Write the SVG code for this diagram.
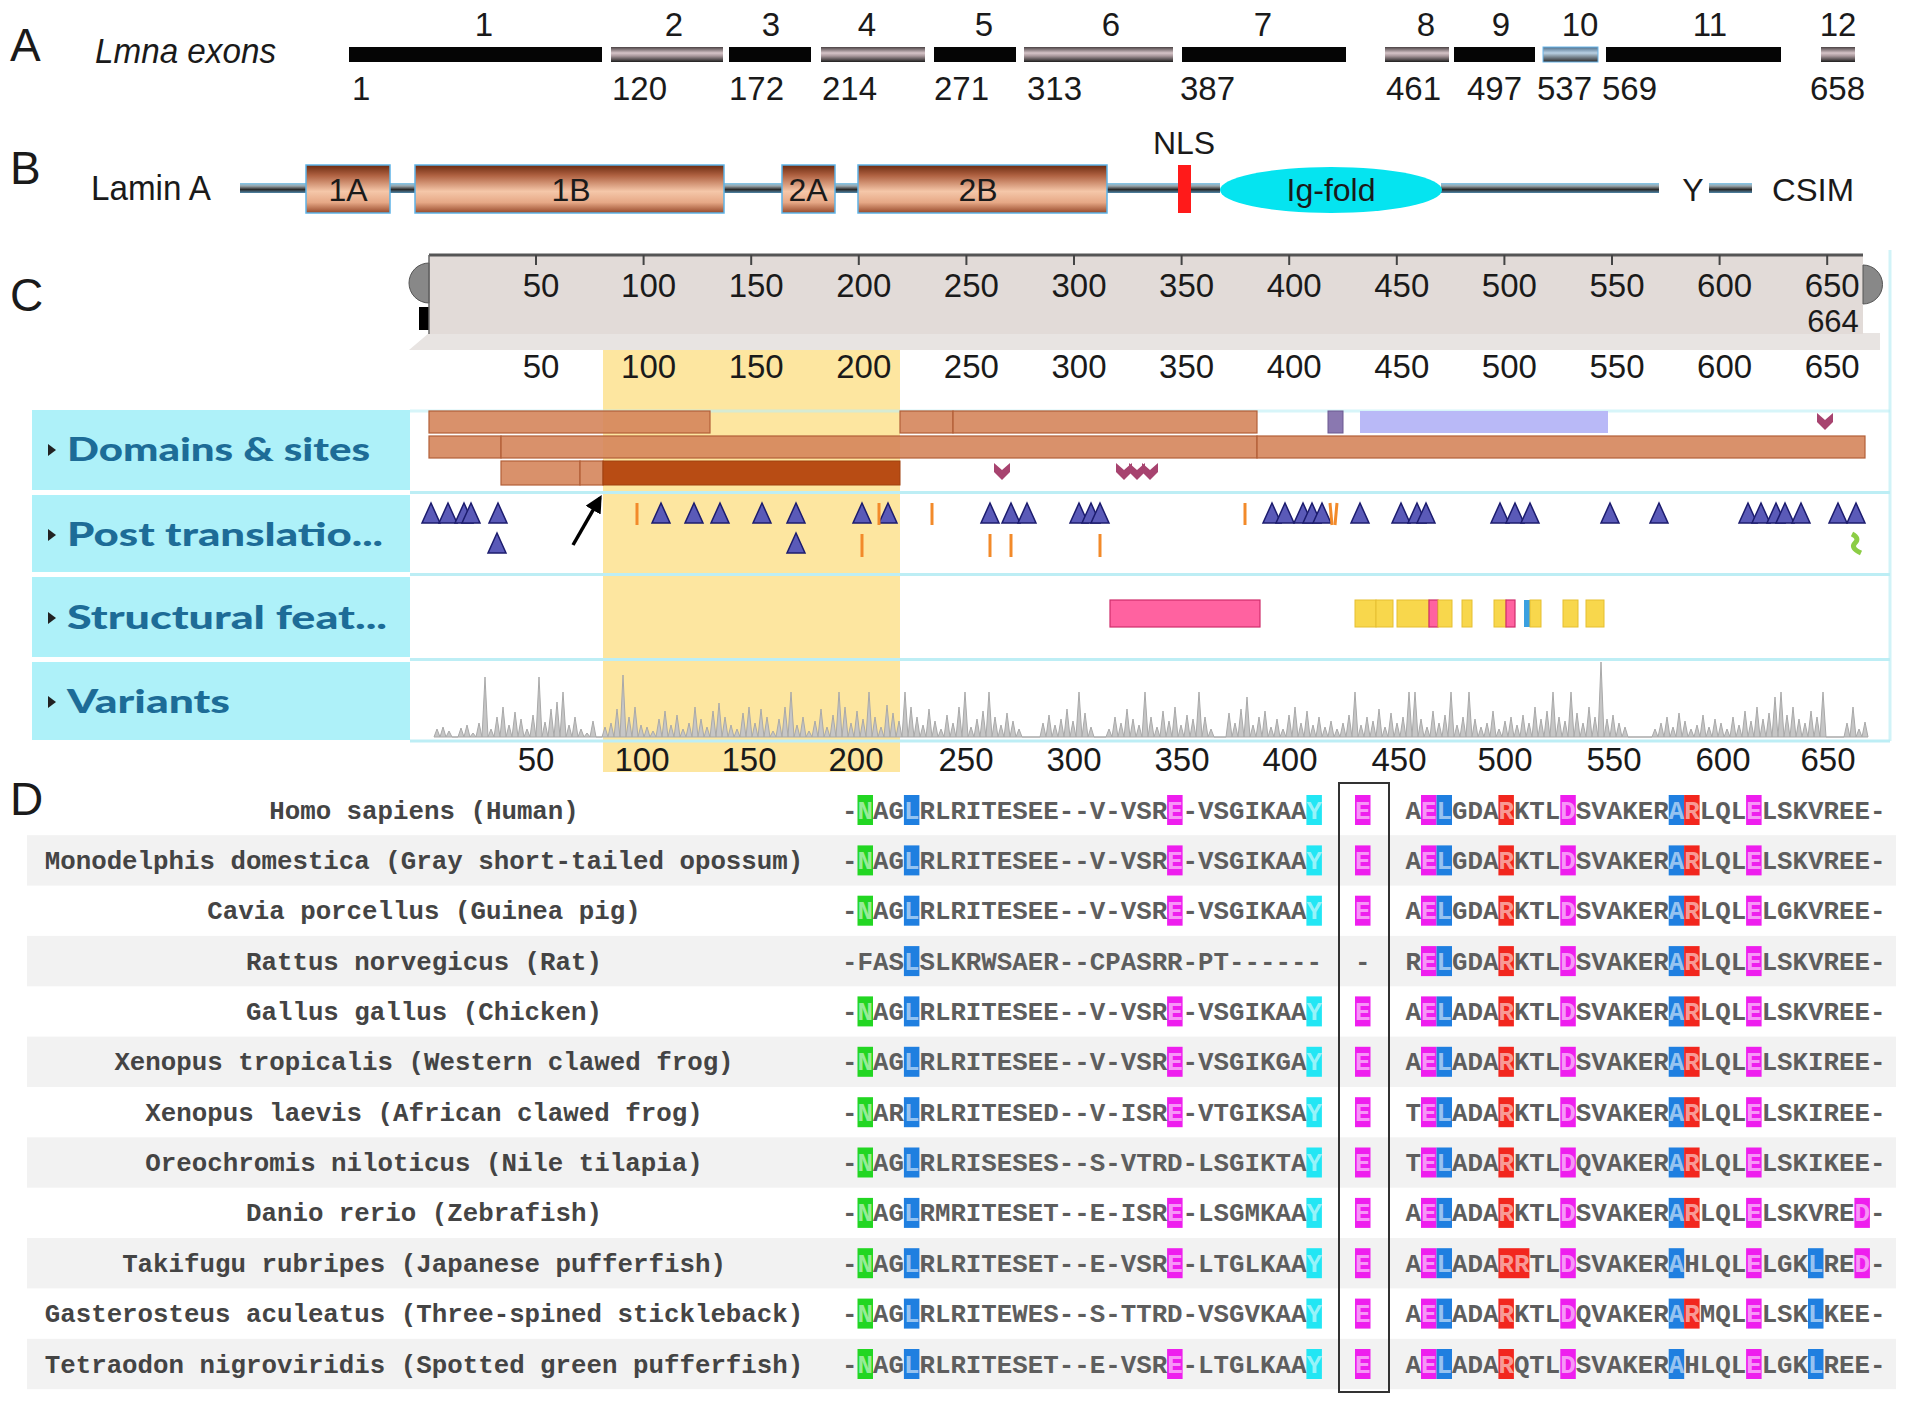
<svg xmlns="http://www.w3.org/2000/svg" width="1913" height="1412" viewBox="0 0 1913 1412">
<style>
.s{font-family:"Liberation Sans",Arial,sans-serif;fill:#1a1a1a}
.big{font-size:46px}
.n{font-size:33px}
.ax{font-size:33px;text-anchor:middle}
.mid{text-anchor:middle}
.trk{font-family:Lato,"Open Sans",sans-serif;font-weight:900;font-size:32px;fill:#1d6c97}
.mono{font-family:"Liberation Mono","Courier New",monospace;font-size:25.8px;font-weight:bold;fill:#5e5e5e}
.sp{font-family:"Liberation Mono","Courier New",monospace;font-size:25.8px;font-weight:bold;fill:#444;text-anchor:middle}
.h{fill:#ffffff;fill-opacity:0.55}
.g{fill:#22d622}.b{fill:#1f7fe0}.m{fill:#ee1eee}.c{fill:#22e6f4}.r{fill:#f2261e}
.blk{fill:#050505}
.eg{fill:url(#exonGrad)}
.line{fill:url(#lineGrad)}
.box{fill:url(#boxGrad);stroke:#5db3e6;stroke-width:1.5}
.dom{fill:#d5855b;fill-opacity:0.9;stroke:#b25f38;stroke-width:1.2}
.ot{stroke:#f28a2a;stroke-width:3}
.sep{stroke:#bdeef5;stroke-width:3}
.yl{fill:#f8d74c;stroke:#e6bf30;stroke-width:1}
.pk{fill:#ff62a0;stroke:#cf2d6c;stroke-width:1.2}
</style>
<defs>
<linearGradient id="exonGrad" x1="0" y1="0" x2="0" y2="1">
<stop offset="0" stop-color="#4a4244"/><stop offset="0.4" stop-color="#d6c4c8"/><stop offset="0.6" stop-color="#a8979b"/><stop offset="1" stop-color="#1e1e1e"/>
</linearGradient>
<linearGradient id="exon10Grad" x1="0" y1="0" x2="0" y2="1">
<stop offset="0" stop-color="#4d6e8a"/><stop offset="0.4" stop-color="#b9d1e4"/><stop offset="1" stop-color="#2a2a2a"/>
</linearGradient>
<linearGradient id="lineGrad" x1="0" y1="0" x2="0" y2="1">
<stop offset="0" stop-color="#82c8ec"/><stop offset="0.3" stop-color="#9aa6ab"/><stop offset="0.65" stop-color="#2b2b2b"/><stop offset="1" stop-color="#4f86a8"/>
</linearGradient>
<linearGradient id="boxGrad" x1="0" y1="0" x2="0" y2="1">
<stop offset="0" stop-color="#6b2a10"/><stop offset="0.22" stop-color="#b06242"/><stop offset="0.55" stop-color="#f5c7a9"/><stop offset="0.78" stop-color="#e6a886"/><stop offset="1" stop-color="#96492a"/>
</linearGradient>
<path id="tri" d="M0,-10 L9,10 L-9,10 Z" fill="#5a5ab8" stroke="#1c1c6e" stroke-width="1.5"/>
<path id="chev" d="M-8,0 L0,7 L8,0 L8,9 L0,17 L-8,9 Z" fill="#a7436f"/>
<marker id="ah" viewBox="0 0 10 10" refX="8" refY="5" markerWidth="5" markerHeight="5" orient="auto">
<path d="M0,0 L10,5 L0,10 Z" fill="#000"/>
</marker>
</defs>
<rect width="1913" height="1412" fill="#fff"/>

<!-- Panel A -->
<g id="panelA">
<text class="s big" x="10" y="61">A</text>
<text class="s" x="95" y="63" font-size="35" font-style="italic" textLength="181" lengthAdjust="spacingAndGlyphs">Lmna exons</text>
<g id="exons">
<rect class="blk" x="349" y="47" width="253" height="15"/>
<rect class="eg" x="611" y="47" width="112" height="15"/>
<rect class="blk" x="729" y="47" width="82" height="15"/>
<rect class="eg" x="821" y="47" width="104" height="15"/>
<rect class="blk" x="934" y="47" width="82" height="15"/>
<rect class="eg" x="1024" y="47" width="149" height="15"/>
<rect class="blk" x="1182" y="47" width="164" height="15"/>
<rect class="eg" x="1385" y="47" width="64" height="15"/>
<rect class="blk" x="1454" y="47" width="81" height="15"/>
<rect x="1543" y="47" width="55" height="15" fill="url(#exon10Grad)" stroke="#6ab6ea" stroke-width="1"/>
<rect class="blk" x="1606" y="47" width="175" height="15"/>
<rect class="eg" x="1821" y="47" width="34" height="15"/>
</g>
<g>
<text class="s n mid" x="484" y="36">1</text>
<text class="s n mid" x="674" y="36">2</text>
<text class="s n mid" x="771" y="36">3</text>
<text class="s n mid" x="867" y="36">4</text>
<text class="s n mid" x="984" y="36">5</text>
<text class="s n mid" x="1111" y="36">6</text>
<text class="s n mid" x="1263" y="36">7</text>
<text class="s n mid" x="1426" y="36">8</text>
<text class="s n mid" x="1501" y="36">9</text>
<text class="s n mid" x="1580" y="36">10</text>
<text class="s n mid" x="1710" y="36">11</text>
<text class="s n mid" x="1838" y="36">12</text>
</g>
<text class="s n" x="352" y="100">1</text>
<text class="s n" x="612" y="100">120</text>
<text class="s n" x="729" y="100">172</text>
<text class="s n" x="822" y="100">214</text>
<text class="s n" x="934" y="100">271</text>
<text class="s n" x="1027" y="100">313</text>
<text class="s n" x="1180" y="100">387</text>
<text class="s n" x="1386" y="100">461</text>
<text class="s n" x="1467" y="100">497</text>
<text class="s n" x="1537" y="100">537</text>
<text class="s n" x="1602" y="100">569</text>
<text class="s n" x="1810" y="100">658</text>
</g>

<!-- Panel B -->
<g id="panelB">
<text class="s big" x="10" y="184">B</text>
<text class="s" x="91" y="200" font-size="35" textLength="120" lengthAdjust="spacingAndGlyphs">Lamin A</text>
<rect class="line" x="240" y="183" width="66" height="10"/>
<rect class="line" x="390" y="183" width="25" height="10"/>
<rect class="line" x="723" y="183" width="59" height="10"/>
<rect class="line" x="835" y="183" width="23" height="10"/>
<rect class="line" x="1107" y="183" width="113" height="10"/>
<rect class="line" x="1441" y="183" width="218" height="10"/>
<rect class="line" x="1709" y="183" width="43" height="10"/>
<g id="helix1A"><rect class="box" x="306" y="165" width="84" height="48"/><text class="s mid" x="348" y="201" font-size="32">1A</text></g>
<g id="helix1B"><rect class="box" x="415" y="165" width="309" height="48"/><text class="s mid" x="571" y="201" font-size="32">1B</text></g>
<g id="helix2A"><rect class="box" x="782" y="165" width="53" height="48"/><text class="s mid" x="808" y="201" font-size="32">2A</text></g>
<g id="helix2B"><rect class="box" x="858" y="165" width="249" height="48"/><text class="s mid" x="978" y="201" font-size="32">2B</text></g>
<g id="nls"><rect x="1178" y="165" width="13" height="48" fill="#ff1a1a"/><text class="s mid" x="1184" y="154" font-size="32">NLS</text></g>
<g id="igfold"><ellipse cx="1331" cy="190" rx="111" ry="23" fill="#05e4f0"/><text class="s mid" x="1331" y="201" font-size="32">Ig-fold</text></g>
<text class="s mid" x="1693" y="201" font-size="32">Y</text>
<text class="s" x="1772" y="201" font-size="32" textLength="82" lengthAdjust="spacingAndGlyphs">CSIM</text>
</g>

<!-- Panel C -->
<g id="panelC">
<text class="s big" x="10" y="311">C</text>
<rect x="603" y="350" width="297" height="422" fill="#fde6a0"/>
<g id="ruler">
<polygon points="409,350 429,333 1880,333 1880,350" fill="#e8e4e2"/>
<rect x="429" y="255" width="1434" height="79" fill="#e2dbd8"/>
<path d="M429,263 A20,20 0 0 0 429,303 Z" fill="#888" stroke="#555" stroke-width="1"/>
<path d="M1863,265 A19,19 0 0 1 1863,304 Z" fill="#888" stroke="#555" stroke-width="1"/>
<rect x="419" y="307" width="10" height="23" fill="#000"/>
<line x1="429" y1="255" x2="1863" y2="255" stroke="#555" stroke-width="3"/>
<line x1="429" y1="255" x2="429" y2="334" stroke="#666" stroke-width="1.5"/>
<g stroke="#444" stroke-width="2">
<line x1="536" y1="255" x2="536" y2="265"/><line x1="643.6" y1="255" x2="643.6" y2="265"/><line x1="751.2" y1="255" x2="751.2" y2="265"/><line x1="858.8" y1="255" x2="858.8" y2="265"/><line x1="966.4" y1="255" x2="966.4" y2="265"/><line x1="1074" y1="255" x2="1074" y2="265"/><line x1="1181.6" y1="255" x2="1181.6" y2="265"/><line x1="1289.2" y1="255" x2="1289.2" y2="265"/><line x1="1396.8" y1="255" x2="1396.8" y2="265"/><line x1="1504.4" y1="255" x2="1504.4" y2="265"/><line x1="1612" y1="255" x2="1612" y2="265"/><line x1="1719.6" y1="255" x2="1719.6" y2="265"/><line x1="1827.2" y1="255" x2="1827.2" y2="265"/>
</g>
<text class="s ax" x="541" y="297">50</text><text class="s ax" x="648.6" y="297">100</text><text class="s ax" x="756.2" y="297">150</text><text class="s ax" x="863.8" y="297">200</text><text class="s ax" x="971.4" y="297">250</text><text class="s ax" x="1079" y="297">300</text><text class="s ax" x="1186.6" y="297">350</text><text class="s ax" x="1294.2" y="297">400</text><text class="s ax" x="1401.8" y="297">450</text><text class="s ax" x="1509.4" y="297">500</text><text class="s ax" x="1617" y="297">550</text><text class="s ax" x="1724.6" y="297">600</text><text class="s ax" x="1832.2" y="297">650</text>
<text class="s mid" x="1833" y="332" font-size="31">664</text>
</g>
<g id="ruler2">
<text class="s ax" x="541" y="378">50</text><text class="s ax" x="648.6" y="378">100</text><text class="s ax" x="756.2" y="378">150</text><text class="s ax" x="863.8" y="378">200</text><text class="s ax" x="971.4" y="378">250</text><text class="s ax" x="1079" y="378">300</text><text class="s ax" x="1186.6" y="378">350</text><text class="s ax" x="1294.2" y="378">400</text><text class="s ax" x="1401.8" y="378">450</text><text class="s ax" x="1509.4" y="378">500</text><text class="s ax" x="1617" y="378">550</text><text class="s ax" x="1724.6" y="378">600</text><text class="s ax" x="1832.2" y="378">650</text>
</g>
<g id="trackFrame">
<line class="sep" x1="410" y1="411" x2="1890" y2="411" stroke-opacity="0.6"/>
<line class="sep" x1="410" y1="492.5" x2="1890" y2="492.5"/>
<line class="sep" x1="410" y1="574.5" x2="1890" y2="574.5"/>
<line class="sep" x1="410" y1="659.5" x2="1890" y2="659.5"/>
<line class="sep" x1="410" y1="741" x2="1890" y2="741"/>
<line class="sep" x1="1890" y1="250" x2="1890" y2="741" stroke-opacity="0.7"/>
</g>
<g id="labelDomains"><rect x="32" y="410" width="378" height="80" fill="#aef1f9"/><path d="M48,444 L56,450 L48,456 Z" fill="#222"/><text class="trk" x="67" y="461" textLength="303" lengthAdjust="spacingAndGlyphs">Domains &amp; sites</text></g>
<g id="labelPTM"><rect x="32" y="495" width="378" height="77" fill="#aef1f9"/><path d="M48,529 L56,535 L48,541 Z" fill="#222"/><text class="trk" x="67" y="546" textLength="316" lengthAdjust="spacingAndGlyphs">Post translatio...</text></g>
<g id="labelStruct"><rect x="32" y="577" width="378" height="80" fill="#aef1f9"/><path d="M48,612 L56,618 L48,624 Z" fill="#222"/><text class="trk" x="67" y="629" textLength="320" lengthAdjust="spacingAndGlyphs">Structural feat...</text></g>
<g id="labelVariants"><rect x="32" y="662" width="378" height="78" fill="#aef1f9"/><path d="M48,696 L56,702 L48,708 Z" fill="#222"/><text class="trk" x="67" y="713" textLength="163" lengthAdjust="spacingAndGlyphs">Variants</text></g>
<g id="domains">
<rect class="dom" x="429" y="411" width="281" height="22"/>
<rect class="dom" x="900" y="411" width="53" height="22"/>
<rect class="dom" x="953" y="411" width="304" height="22"/>
<rect x="1328" y="411" width="15" height="22" fill="#8a78b0" stroke="#6a5890"/>
<rect x="1360" y="411" width="248" height="22" fill="#b9b9f7"/>
<rect class="dom" x="429" y="436" width="72" height="22"/>
<rect class="dom" x="501" y="436" width="756" height="22"/>
<rect class="dom" x="1257" y="436" width="608" height="22"/>
<rect class="dom" x="501" y="461" width="79" height="24"/>
<rect class="dom" x="580" y="461" width="23" height="24"/>
<rect x="603" y="461" width="297" height="24" fill="#b84c14" stroke="#a0400e"/>
<use href="#chev" x="1825" y="413"/>
<use href="#chev" x="1002" y="463"/>
<use href="#chev" x="1124" y="463"/>
<use href="#chev" x="1137" y="463"/>
<use href="#chev" x="1150" y="463"/>
</g>
<g id="ptm">
<use href="#tri" x="431" y="513"/><use href="#tri" x="448" y="513"/><use href="#tri" x="464" y="513"/><use href="#tri" x="471" y="513"/><use href="#tri" x="498" y="513"/>
<use href="#tri" x="661" y="513"/><use href="#tri" x="694" y="513"/><use href="#tri" x="720" y="513"/><use href="#tri" x="762" y="513"/><use href="#tri" x="796" y="513"/><use href="#tri" x="862" y="513"/><use href="#tri" x="888" y="513"/>
<use href="#tri" x="990" y="513"/><use href="#tri" x="1011" y="513"/><use href="#tri" x="1027" y="513"/>
<use href="#tri" x="1079" y="513"/><use href="#tri" x="1091" y="513"/><use href="#tri" x="1100" y="513"/>
<use href="#tri" x="1272" y="513"/><use href="#tri" x="1285" y="513"/><use href="#tri" x="1303" y="513"/><use href="#tri" x="1312" y="513"/><use href="#tri" x="1322" y="513"/>
<use href="#tri" x="1360" y="513"/>
<use href="#tri" x="1401" y="513"/><use href="#tri" x="1417" y="513"/><use href="#tri" x="1426" y="513"/>
<use href="#tri" x="1500" y="513"/><use href="#tri" x="1515" y="513"/><use href="#tri" x="1530" y="513"/>
<use href="#tri" x="1610" y="513"/><use href="#tri" x="1659" y="513"/>
<use href="#tri" x="1748" y="513"/><use href="#tri" x="1761" y="513"/><use href="#tri" x="1776" y="513"/><use href="#tri" x="1785" y="513"/><use href="#tri" x="1801" y="513"/>
<use href="#tri" x="1838" y="513"/><use href="#tri" x="1856" y="513"/>
<use href="#tri" x="497" y="543"/><use href="#tri" x="796" y="543"/>
<line class="ot" x1="637" y1="503" x2="637" y2="525"/><line class="ot" x1="879" y1="503" x2="879" y2="525"/><line class="ot" x1="932" y1="503" x2="932" y2="525"/><line class="ot" x1="1245" y1="503" x2="1245" y2="525"/><line class="ot" x1="1330" y1="503" x2="1332" y2="525"/><line class="ot" x1="1337" y1="503" x2="1335" y2="525"/>
<line class="ot" x1="862" y1="534" x2="862" y2="557"/><line class="ot" x1="990" y1="534" x2="990" y2="557"/><line class="ot" x1="1011" y1="534" x2="1011" y2="557"/><line class="ot" x1="1100" y1="534" x2="1100" y2="557"/>
<path d="M1852,534 q8,4 3,9 q-5,5 6,10" fill="none" stroke="#8ccd45" stroke-width="5"/>
</g>
<g id="structural">
<rect class="pk" x="1110" y="600" width="150" height="27"/>
<rect class="yl" x="1355" y="600" width="21" height="27"/><rect class="yl" x="1376" y="600" width="17" height="27"/><rect class="yl" x="1397" y="600" width="32" height="27"/><rect class="pk" x="1429" y="600" width="9" height="27"/><rect class="yl" x="1438" y="600" width="14" height="27"/><rect class="yl" x="1462" y="600" width="10" height="27"/><rect class="yl" x="1494" y="600" width="12" height="27"/><rect class="pk" x="1506" y="600" width="9" height="27"/><rect x="1524" y="600" width="6" height="27" fill="#3aa0e0"/><rect class="yl" x="1530" y="600" width="11" height="27"/><rect class="yl" x="1563" y="600" width="15" height="27"/><rect class="yl" x="1586" y="600" width="18" height="27"/>
</g>
<g id="variants">
<path fill="#c6c6c6" stroke="#a9a9a9" stroke-width="1" stroke-linejoin="miter" d="M434,737 l3,-8 3,8 3,-10 3,10 3,-6 3,6 6,0 3,-9 3,9 3,-12 3,12 3,-4 3,4 3,-14 3,14 3,-60 3,60 3,-8 3,8 3,-20 3,20 3,-30 3,30 3,-12 3,12 3,-25 3,25 3,-18 3,18 3,-8 3,8 3,-22 3,22 3,-60 3,60 3,-15 3,15 3,-28 3,28 3,-35 3,35 3,-45 3,45 3,-12 3,12 3,-20 3,20 3,-8 3,8 3,-4 3,4 3,-16 3,16 6,0 3,-10 3,10 3,-14 3,14 3,-28 3,28 3,-62 3,62 3,-20 3,20 3,-30 3,30 3,-12 3,12 3,-10 3,10 3,-6 3,6 3,-18 3,18 3,-26 3,26 3,-12 3,12 3,-22 3,22 3,-8 3,8 3,-14 3,14 3,-30 3,30 3,-18 3,18 3,-10 3,10 3,-26 3,26 3,-34 3,34 3,-20 3,20 3,-12 3,12 3,-8 3,8 3,-24 3,24 3,-30 3,30 3,-14 3,14 3,-28 3,28 3,-20 3,20 3,-6 3,6 3,-18 3,18 3,-30 3,30 3,-45 3,45 3,-12 3,12 3,-20 3,20 3,-6 3,6 3,-16 3,16 3,-28 3,28 3,-10 3,10 3,-22 3,22 3,-45 3,45 3,-30 3,30 3,-14 3,14 3,-26 3,26 3,-18 3,18 3,-45 3,45 3,-20 3,20 3,-10 3,10 3,-32 3,32 3,-24 3,24 3,-16 3,16 3,-45 3,45 3,-30 3,30 3,-20 3,20 3,-12 3,12 3,-28 3,28 3,-16 3,16 3,-8 3,8 3,-22 3,22 3,-14 3,14 3,-30 3,30 3,-45 3,45 3,-10 3,10 3,-18 3,18 3,-26 3,26 3,-45 3,45 3,-20 3,20 3,-12 3,12 3,-24 3,24 3,-16 3,16 3,-8 3,8 12,0 6,0 3,-14 3,14 3,-22 3,22 3,-12 3,12 3,-18 3,18 3,-28 3,28 3,-16 3,16 3,-45 3,45 3,-24 3,24 3,-10 3,10 12,0 3,-8 3,8 3,-20 3,20 3,-14 3,14 3,-28 3,28 3,-18 3,18 3,-12 3,12 3,-45 3,45 3,-20 3,20 3,-10 3,10 3,-26 3,26 3,-16 3,16 3,-30 3,30 3,-12 3,12 3,-22 3,22 3,-18 3,18 3,-45 3,45 3,-20 3,20 3,-8 3,8 12,0 3,-24 3,24 3,-14 3,14 3,-28 3,28 3,-40 3,40 3,-12 3,12 3,-20 3,20 3,-26 3,26 3,-10 3,10 3,-18 3,18 3,-8 3,8 3,-22 3,22 3,-30 3,30 3,-14 3,14 3,-26 3,26 3,-12 3,12 3,-20 3,20 3,-10 3,10 3,-16 3,16 3,-8 3,8 3,-14 3,14 3,-22 3,22 3,-45 3,45 3,-12 3,12 3,-20 3,20 3,-16 3,16 3,-28 3,28 3,-10 3,10 3,-24 3,24 3,-14 3,14 3,-20 3,20 3,-45 3,45 3,-45 3,45 3,-18 3,18 3,-10 3,10 3,-26 3,26 3,-14 3,14 3,-22 3,22 3,-45 3,45 3,-12 3,12 3,-20 3,20 3,-45 3,45 3,-18 3,18 3,-10 3,10 3,-14 3,14 3,-26 3,26 3,-8 3,8 3,-16 3,16 3,-20 3,20 3,-12 3,12 3,-22 3,22 3,-14 3,14 3,-30 3,30 3,-18 3,18 3,-26 3,26 3,-45 3,45 3,-20 3,20 3,-16 3,16 3,-45 3,45 3,-24 3,24 3,-14 3,14 3,-30 3,30 3,-20 3,20 3,-75 3,75 3,-18 3,18 3,-22 3,22 3,-14 3,14 3,-10 3,10 6,0 18,0 3,-8 3,8 3,-14 3,14 3,-20 3,20 3,-10 3,10 3,-24 3,24 3,-16 3,16 3,-8 3,8 3,-12 3,12 3,-22 3,22 3,-10 3,10 3,-18 3,18 3,-14 3,14 3,-8 3,8 3,-20 3,20 3,-12 3,12 3,-26 3,26 3,-16 3,16 3,-30 3,30 3,-18 3,18 3,-24 3,24 3,-40 3,40 3,-45 3,45 3,-22 3,22 3,-30 3,30 3,-18 3,18 3,-14 3,14 3,-26 3,26 3,-20 3,20 3,-45 3,45 18,0 3,-14 3,14 3,-30 3,30 3,-8 3,8 3,-15 3,15 Z"/>
</g>
<g id="axisBottom">
<text class="s ax" x="536" y="771">50</text><text class="s ax" x="642" y="771">100</text><text class="s ax" x="749" y="771">150</text><text class="s ax" x="856" y="771">200</text><text class="s ax" x="966" y="771">250</text><text class="s ax" x="1074" y="771">300</text><text class="s ax" x="1182" y="771">350</text><text class="s ax" x="1290" y="771">400</text><text class="s ax" x="1399" y="771">450</text><text class="s ax" x="1505" y="771">500</text><text class="s ax" x="1614" y="771">550</text><text class="s ax" x="1723" y="771">600</text><text class="s ax" x="1828" y="771">650</text>
</g>
</g>
<g id="connectors">
<line x1="573" y1="545" x2="600" y2="498" stroke="#000" stroke-width="3.5" marker-end="url(#ah)"/>
</g>

<!-- Panel D -->
<g id="panelD">
<text class="s big" x="10" y="815">D</text>
<g id="row0" transform="translate(0,810)">
<rect class="g" x="857.5" y="-15" width="15.5" height="30"/><rect class="b" x="903.9" y="-15" width="15.5" height="30"/><rect class="m" x="1167.1" y="-15" width="15.5" height="30"/><rect class="c" x="1306.4" y="-15" width="15.5" height="30"/><rect class="m" x="1355" y="-15" width="15.5" height="30"/><rect class="m" x="1421" y="-15" width="15.5" height="30"/><rect class="b" x="1436.5" y="-15" width="15.5" height="30"/><rect class="r" x="1498.4" y="-15" width="15.5" height="30"/><rect class="m" x="1560.3" y="-15" width="15.5" height="30"/><rect class="b" x="1668.7" y="-15" width="15.5" height="30"/><rect class="r" x="1684.1" y="-15" width="15.5" height="30"/><rect class="m" x="1746.1" y="-15" width="15.5" height="30"/>
<text class="sp" x="424" y="8.5">Homo sapiens (Human)</text>
<text class="mono" x="842" y="8.5">-<tspan class="h">N</tspan>AG<tspan class="h">L</tspan>RLRITESEE--V-VSR<tspan class="h">E</tspan>-VSGIKAA<tspan class="h">Y</tspan></text>
<text class="mono" x="1355" y="8.5"><tspan class="h">E</tspan></text>
<text class="mono" x="1405.5" y="8.5">A<tspan class="h">EL</tspan>GDA<tspan class="h">R</tspan>KTL<tspan class="h">D</tspan>SVAKER<tspan class="h">AR</tspan>LQL<tspan class="h">E</tspan>LSKVREE-</text>
</g>
<g id="row1" transform="translate(0,860.4)">
<rect x="27" y="-25.2" width="1869" height="50.4" fill="#f2f2f2"/>
<rect class="g" x="857.5" y="-15" width="15.5" height="30"/><rect class="b" x="903.9" y="-15" width="15.5" height="30"/><rect class="m" x="1167.1" y="-15" width="15.5" height="30"/><rect class="c" x="1306.4" y="-15" width="15.5" height="30"/><rect class="m" x="1355" y="-15" width="15.5" height="30"/><rect class="m" x="1421" y="-15" width="15.5" height="30"/><rect class="b" x="1436.5" y="-15" width="15.5" height="30"/><rect class="r" x="1498.4" y="-15" width="15.5" height="30"/><rect class="m" x="1560.3" y="-15" width="15.5" height="30"/><rect class="b" x="1668.7" y="-15" width="15.5" height="30"/><rect class="r" x="1684.1" y="-15" width="15.5" height="30"/><rect class="m" x="1746.1" y="-15" width="15.5" height="30"/>
<text class="sp" x="424" y="8.5">Monodelphis domestica (Gray short-tailed opossum)</text>
<text class="mono" x="842" y="8.5">-<tspan class="h">N</tspan>AG<tspan class="h">L</tspan>RLRITESEE--V-VSR<tspan class="h">E</tspan>-VSGIKAA<tspan class="h">Y</tspan></text>
<text class="mono" x="1355" y="8.5"><tspan class="h">E</tspan></text>
<text class="mono" x="1405.5" y="8.5">A<tspan class="h">EL</tspan>GDA<tspan class="h">R</tspan>KTL<tspan class="h">D</tspan>SVAKER<tspan class="h">AR</tspan>LQL<tspan class="h">E</tspan>LSKVREE-</text>
</g>
<g id="row2" transform="translate(0,910.7)">
<rect class="g" x="857.5" y="-15" width="15.5" height="30"/><rect class="b" x="903.9" y="-15" width="15.5" height="30"/><rect class="m" x="1167.1" y="-15" width="15.5" height="30"/><rect class="c" x="1306.4" y="-15" width="15.5" height="30"/><rect class="m" x="1355" y="-15" width="15.5" height="30"/><rect class="m" x="1421" y="-15" width="15.5" height="30"/><rect class="b" x="1436.5" y="-15" width="15.5" height="30"/><rect class="r" x="1498.4" y="-15" width="15.5" height="30"/><rect class="m" x="1560.3" y="-15" width="15.5" height="30"/><rect class="b" x="1668.7" y="-15" width="15.5" height="30"/><rect class="r" x="1684.1" y="-15" width="15.5" height="30"/><rect class="m" x="1746.1" y="-15" width="15.5" height="30"/>
<text class="sp" x="424" y="8.5">Cavia porcellus (Guinea pig)</text>
<text class="mono" x="842" y="8.5">-<tspan class="h">N</tspan>AG<tspan class="h">L</tspan>RLRITESEE--V-VSR<tspan class="h">E</tspan>-VSGIKAA<tspan class="h">Y</tspan></text>
<text class="mono" x="1355" y="8.5"><tspan class="h">E</tspan></text>
<text class="mono" x="1405.5" y="8.5">A<tspan class="h">EL</tspan>GDA<tspan class="h">R</tspan>KTL<tspan class="h">D</tspan>SVAKER<tspan class="h">AR</tspan>LQL<tspan class="h">E</tspan>LGKVREE-</text>
</g>
<g id="row3" transform="translate(0,961.1)">
<rect x="27" y="-25.2" width="1869" height="50.4" fill="#f2f2f2"/>
<rect class="b" x="903.9" y="-15" width="15.5" height="30"/><rect class="m" x="1421" y="-15" width="15.5" height="30"/><rect class="b" x="1436.5" y="-15" width="15.5" height="30"/><rect class="r" x="1498.4" y="-15" width="15.5" height="30"/><rect class="m" x="1560.3" y="-15" width="15.5" height="30"/><rect class="b" x="1668.7" y="-15" width="15.5" height="30"/><rect class="r" x="1684.1" y="-15" width="15.5" height="30"/><rect class="m" x="1746.1" y="-15" width="15.5" height="30"/>
<text class="sp" x="424" y="8.5">Rattus norvegicus (Rat)</text>
<text class="mono" x="842" y="8.5">-FAS<tspan class="h">L</tspan>SLKRWSAER--CPASRR-PT------</text>
<text class="mono" x="1355" y="8.5">-</text>
<text class="mono" x="1405.5" y="8.5">R<tspan class="h">EL</tspan>GDA<tspan class="h">R</tspan>KTL<tspan class="h">D</tspan>SVAKER<tspan class="h">AR</tspan>LQL<tspan class="h">E</tspan>LSKVREE-</text>
</g>
<g id="row4" transform="translate(0,1011.4)">
<rect class="g" x="857.5" y="-15" width="15.5" height="30"/><rect class="b" x="903.9" y="-15" width="15.5" height="30"/><rect class="m" x="1167.1" y="-15" width="15.5" height="30"/><rect class="c" x="1306.4" y="-15" width="15.5" height="30"/><rect class="m" x="1355" y="-15" width="15.5" height="30"/><rect class="m" x="1421" y="-15" width="15.5" height="30"/><rect class="b" x="1436.5" y="-15" width="15.5" height="30"/><rect class="r" x="1498.4" y="-15" width="15.5" height="30"/><rect class="m" x="1560.3" y="-15" width="15.5" height="30"/><rect class="b" x="1668.7" y="-15" width="15.5" height="30"/><rect class="r" x="1684.1" y="-15" width="15.5" height="30"/><rect class="m" x="1746.1" y="-15" width="15.5" height="30"/>
<text class="sp" x="424" y="8.5">Gallus gallus (Chicken)</text>
<text class="mono" x="842" y="8.5">-<tspan class="h">N</tspan>AG<tspan class="h">L</tspan>RLRITESEE--V-VSR<tspan class="h">E</tspan>-VSGIKAA<tspan class="h">Y</tspan></text>
<text class="mono" x="1355" y="8.5"><tspan class="h">E</tspan></text>
<text class="mono" x="1405.5" y="8.5">A<tspan class="h">EL</tspan>ADA<tspan class="h">R</tspan>KTL<tspan class="h">D</tspan>SVAKER<tspan class="h">AR</tspan>LQL<tspan class="h">E</tspan>LSKVREE-</text>
</g>
<g id="row5" transform="translate(0,1061.8)">
<rect x="27" y="-25.2" width="1869" height="50.4" fill="#f2f2f2"/>
<rect class="g" x="857.5" y="-15" width="15.5" height="30"/><rect class="b" x="903.9" y="-15" width="15.5" height="30"/><rect class="m" x="1167.1" y="-15" width="15.5" height="30"/><rect class="c" x="1306.4" y="-15" width="15.5" height="30"/><rect class="m" x="1355" y="-15" width="15.5" height="30"/><rect class="m" x="1421" y="-15" width="15.5" height="30"/><rect class="b" x="1436.5" y="-15" width="15.5" height="30"/><rect class="r" x="1498.4" y="-15" width="15.5" height="30"/><rect class="m" x="1560.3" y="-15" width="15.5" height="30"/><rect class="b" x="1668.7" y="-15" width="15.5" height="30"/><rect class="r" x="1684.1" y="-15" width="15.5" height="30"/><rect class="m" x="1746.1" y="-15" width="15.5" height="30"/>
<text class="sp" x="424" y="8.5">Xenopus tropicalis (Western clawed frog)</text>
<text class="mono" x="842" y="8.5">-<tspan class="h">N</tspan>AG<tspan class="h">L</tspan>RLRITESEE--V-VSR<tspan class="h">E</tspan>-VSGIKGA<tspan class="h">Y</tspan></text>
<text class="mono" x="1355" y="8.5"><tspan class="h">E</tspan></text>
<text class="mono" x="1405.5" y="8.5">A<tspan class="h">EL</tspan>ADA<tspan class="h">R</tspan>KTL<tspan class="h">D</tspan>SVAKER<tspan class="h">AR</tspan>LQL<tspan class="h">E</tspan>LSKIREE-</text>
</g>
<g id="row6" transform="translate(0,1112.2)">
<rect class="g" x="857.5" y="-15" width="15.5" height="30"/><rect class="b" x="903.9" y="-15" width="15.5" height="30"/><rect class="m" x="1167.1" y="-15" width="15.5" height="30"/><rect class="c" x="1306.4" y="-15" width="15.5" height="30"/><rect class="m" x="1355" y="-15" width="15.5" height="30"/><rect class="m" x="1421" y="-15" width="15.5" height="30"/><rect class="b" x="1436.5" y="-15" width="15.5" height="30"/><rect class="r" x="1498.4" y="-15" width="15.5" height="30"/><rect class="m" x="1560.3" y="-15" width="15.5" height="30"/><rect class="b" x="1668.7" y="-15" width="15.5" height="30"/><rect class="r" x="1684.1" y="-15" width="15.5" height="30"/><rect class="m" x="1746.1" y="-15" width="15.5" height="30"/>
<text class="sp" x="424" y="8.5">Xenopus laevis (African clawed frog)</text>
<text class="mono" x="842" y="8.5">-<tspan class="h">N</tspan>AR<tspan class="h">L</tspan>RLRITESED--V-ISR<tspan class="h">E</tspan>-VTGIKSA<tspan class="h">Y</tspan></text>
<text class="mono" x="1355" y="8.5"><tspan class="h">E</tspan></text>
<text class="mono" x="1405.5" y="8.5">T<tspan class="h">EL</tspan>ADA<tspan class="h">R</tspan>KTL<tspan class="h">D</tspan>SVAKER<tspan class="h">AR</tspan>LQL<tspan class="h">E</tspan>LSKIREE-</text>
</g>
<g id="row7" transform="translate(0,1162.5)">
<rect x="27" y="-25.2" width="1869" height="50.4" fill="#f2f2f2"/>
<rect class="g" x="857.5" y="-15" width="15.5" height="30"/><rect class="b" x="903.9" y="-15" width="15.5" height="30"/><rect class="c" x="1306.4" y="-15" width="15.5" height="30"/><rect class="m" x="1355" y="-15" width="15.5" height="30"/><rect class="m" x="1421" y="-15" width="15.5" height="30"/><rect class="b" x="1436.5" y="-15" width="15.5" height="30"/><rect class="r" x="1498.4" y="-15" width="15.5" height="30"/><rect class="m" x="1560.3" y="-15" width="15.5" height="30"/><rect class="b" x="1668.7" y="-15" width="15.5" height="30"/><rect class="r" x="1684.1" y="-15" width="15.5" height="30"/><rect class="m" x="1746.1" y="-15" width="15.5" height="30"/>
<text class="sp" x="424" y="8.5">Oreochromis niloticus (Nile tilapia)</text>
<text class="mono" x="842" y="8.5">-<tspan class="h">N</tspan>AG<tspan class="h">L</tspan>RLRISESES--S-VTRD-LSGIKTA<tspan class="h">Y</tspan></text>
<text class="mono" x="1355" y="8.5"><tspan class="h">E</tspan></text>
<text class="mono" x="1405.5" y="8.5">T<tspan class="h">EL</tspan>ADA<tspan class="h">R</tspan>KTL<tspan class="h">D</tspan>QVAKER<tspan class="h">AR</tspan>LQL<tspan class="h">E</tspan>LSKIKEE-</text>
</g>
<g id="row8" transform="translate(0,1212.9)">
<rect class="g" x="857.5" y="-15" width="15.5" height="30"/><rect class="b" x="903.9" y="-15" width="15.5" height="30"/><rect class="m" x="1167.1" y="-15" width="15.5" height="30"/><rect class="c" x="1306.4" y="-15" width="15.5" height="30"/><rect class="m" x="1355" y="-15" width="15.5" height="30"/><rect class="m" x="1421" y="-15" width="15.5" height="30"/><rect class="b" x="1436.5" y="-15" width="15.5" height="30"/><rect class="r" x="1498.4" y="-15" width="15.5" height="30"/><rect class="m" x="1560.3" y="-15" width="15.5" height="30"/><rect class="b" x="1668.7" y="-15" width="15.5" height="30"/><rect class="r" x="1684.1" y="-15" width="15.5" height="30"/><rect class="m" x="1746.1" y="-15" width="15.5" height="30"/><rect class="m" x="1854.4" y="-15" width="15.5" height="30"/>
<text class="sp" x="424" y="8.5">Danio rerio (Zebrafish)</text>
<text class="mono" x="842" y="8.5">-<tspan class="h">N</tspan>AG<tspan class="h">L</tspan>RMRITESET--E-ISR<tspan class="h">E</tspan>-LSGMKAA<tspan class="h">Y</tspan></text>
<text class="mono" x="1355" y="8.5"><tspan class="h">E</tspan></text>
<text class="mono" x="1405.5" y="8.5">A<tspan class="h">EL</tspan>ADA<tspan class="h">R</tspan>KTL<tspan class="h">D</tspan>SVAKER<tspan class="h">AR</tspan>LQL<tspan class="h">E</tspan>LSKVRE<tspan class="h">D</tspan>-</text>
</g>
<g id="row9" transform="translate(0,1263.2)">
<rect x="27" y="-25.2" width="1869" height="50.4" fill="#f2f2f2"/>
<rect class="g" x="857.5" y="-15" width="15.5" height="30"/><rect class="b" x="903.9" y="-15" width="15.5" height="30"/><rect class="m" x="1167.1" y="-15" width="15.5" height="30"/><rect class="c" x="1306.4" y="-15" width="15.5" height="30"/><rect class="m" x="1355" y="-15" width="15.5" height="30"/><rect class="m" x="1421" y="-15" width="15.5" height="30"/><rect class="b" x="1436.5" y="-15" width="15.5" height="30"/><rect class="r" x="1498.4" y="-15" width="31" height="30"/><rect class="m" x="1560.3" y="-15" width="15.5" height="30"/><rect class="b" x="1668.7" y="-15" width="15.5" height="30"/><rect class="m" x="1746.1" y="-15" width="15.5" height="30"/><rect class="b" x="1808" y="-15" width="15.5" height="30"/><rect class="m" x="1854.4" y="-15" width="15.5" height="30"/>
<text class="sp" x="424" y="8.5">Takifugu rubripes (Japanese pufferfish)</text>
<text class="mono" x="842" y="8.5">-<tspan class="h">N</tspan>AG<tspan class="h">L</tspan>RLRITESET--E-VSR<tspan class="h">E</tspan>-LTGLKAA<tspan class="h">Y</tspan></text>
<text class="mono" x="1355" y="8.5"><tspan class="h">E</tspan></text>
<text class="mono" x="1405.5" y="8.5">A<tspan class="h">EL</tspan>ADA<tspan class="h">RR</tspan>TL<tspan class="h">D</tspan>SVAKER<tspan class="h">A</tspan>HLQL<tspan class="h">E</tspan>LGK<tspan class="h">L</tspan>RE<tspan class="h">D</tspan>-</text>
</g>
<g id="row10" transform="translate(0,1313.6)">
<rect class="g" x="857.5" y="-15" width="15.5" height="30"/><rect class="b" x="903.9" y="-15" width="15.5" height="30"/><rect class="c" x="1306.4" y="-15" width="15.5" height="30"/><rect class="m" x="1355" y="-15" width="15.5" height="30"/><rect class="m" x="1421" y="-15" width="15.5" height="30"/><rect class="b" x="1436.5" y="-15" width="15.5" height="30"/><rect class="r" x="1498.4" y="-15" width="15.5" height="30"/><rect class="m" x="1560.3" y="-15" width="15.5" height="30"/><rect class="b" x="1668.7" y="-15" width="15.5" height="30"/><rect class="r" x="1684.1" y="-15" width="15.5" height="30"/><rect class="m" x="1746.1" y="-15" width="15.5" height="30"/><rect class="b" x="1808" y="-15" width="15.5" height="30"/>
<text class="sp" x="424" y="8.5">Gasterosteus aculeatus (Three-spined stickleback)</text>
<text class="mono" x="842" y="8.5">-<tspan class="h">N</tspan>AG<tspan class="h">L</tspan>RLRITEWES--S-TTRD-VSGVKAA<tspan class="h">Y</tspan></text>
<text class="mono" x="1355" y="8.5"><tspan class="h">E</tspan></text>
<text class="mono" x="1405.5" y="8.5">A<tspan class="h">EL</tspan>ADA<tspan class="h">R</tspan>KTL<tspan class="h">D</tspan>QVAKER<tspan class="h">AR</tspan>MQL<tspan class="h">E</tspan>LSK<tspan class="h">L</tspan>KEE-</text>
</g>
<g id="row11" transform="translate(0,1364)">
<rect x="27" y="-25.2" width="1869" height="50.4" fill="#f2f2f2"/>
<rect class="g" x="857.5" y="-15" width="15.5" height="30"/><rect class="b" x="903.9" y="-15" width="15.5" height="30"/><rect class="m" x="1167.1" y="-15" width="15.5" height="30"/><rect class="c" x="1306.4" y="-15" width="15.5" height="30"/><rect class="m" x="1355" y="-15" width="15.5" height="30"/><rect class="m" x="1421" y="-15" width="15.5" height="30"/><rect class="b" x="1436.5" y="-15" width="15.5" height="30"/><rect class="r" x="1498.4" y="-15" width="15.5" height="30"/><rect class="m" x="1560.3" y="-15" width="15.5" height="30"/><rect class="b" x="1668.7" y="-15" width="15.5" height="30"/><rect class="m" x="1746.1" y="-15" width="15.5" height="30"/><rect class="b" x="1808" y="-15" width="15.5" height="30"/>
<text class="sp" x="424" y="8.5">Tetraodon nigroviridis (Spotted green pufferfish)</text>
<text class="mono" x="842" y="8.5">-<tspan class="h">N</tspan>AG<tspan class="h">L</tspan>RLRITESET--E-VSR<tspan class="h">E</tspan>-LTGLKAA<tspan class="h">Y</tspan></text>
<text class="mono" x="1355" y="8.5"><tspan class="h">E</tspan></text>
<text class="mono" x="1405.5" y="8.5">A<tspan class="h">EL</tspan>ADA<tspan class="h">R</tspan>QTL<tspan class="h">D</tspan>SVAKER<tspan class="h">A</tspan>HLQL<tspan class="h">E</tspan>LGK<tspan class="h">L</tspan>REE-</text>
</g>
<rect id="conservedBox" x="1339" y="783" width="50" height="609" fill="none" stroke="#333" stroke-width="2"/>
</g>
</svg>
